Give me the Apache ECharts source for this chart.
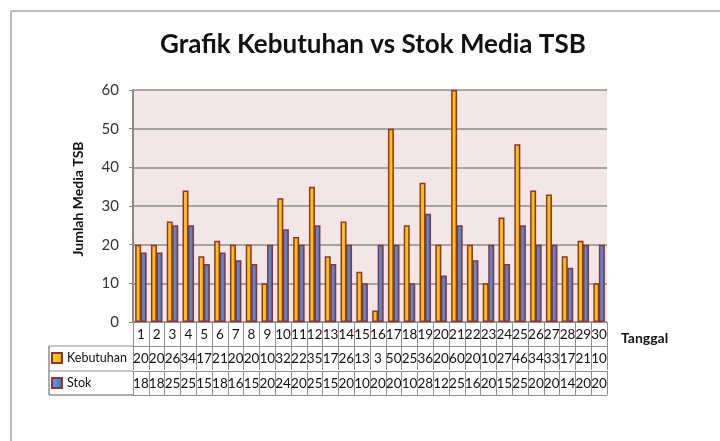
<!DOCTYPE html>
<html>
<head>
<meta charset="utf-8">
<script src="https://cdn.jsdelivr.net/npm/echarts@6/dist/echarts.min.js"></script>
<style>html,body{margin:0;padding:0;background:#fff}#c{width:720px;height:441px}</style>
</head>
<body>
<div id="c"></div>
<script>
var days = ['1','2','3','4','5','6','7','8','9','10','11','12','13','14','15','16','17','18','19','20','21','22','23','24','25','26','27','28','29','30'];
var kebutuhan = [20,20,26,34,17,21,20,20,10,32,22,35,17,26,13,3,50,25,36,20,60,20,10,27,46,34,33,17,21,10];
var stok = [18,18,25,25,15,18,16,15,20,24,20,25,15,20,10,20,20,10,28,12,25,16,20,15,25,20,20,14,20,20];
var yTicks = [0,10,20,30,40,50,60];

var FONT = 'Lato, "Open Sans", sans-serif';
var GRID_LINE = '#8c8c8c';
var TABLE_LINE = '#8f8f8f';
var BAR_BORDER = '#8b3535';

function tableAxis(data, offset, showLabel) {
  return {
    type: 'category', gridIndex: 0, position: 'bottom', offset: offset,
    data: data,
    axisLine: {show: true, lineStyle: {color: TABLE_LINE, width: 1}},
    axisTick: {show: showLabel, interval: 0, length: 24, lineStyle: {color: TABLE_LINE, width: 1}},
    axisLabel: {show: showLabel, interval: 0, margin: 6, fontFamily: FONT, fontSize: 13.5, color: '#111', hideOverlap: false},
    splitLine: {show: false}
  };
}

var chart = echarts.init(document.getElementById('c'), null, {renderer: 'canvas'});
var xDays = tableAxis(days, 0, true);
xDays.name = 'Tanggal';
xDays.nameLocation = 'end';
xDays.nameGap = 14;
xDays.nameTextStyle = {fontFamily: FONT, fontSize: 14, fontWeight: 'bold', color: '#111', verticalAlign: 'top', padding: [9, 0, 0, 0]};

chart.setOption({
  animation: false,
  backgroundColor: '#ffffff',
  title: {
    text: 'Grafik Kebutuhan vs Stok Media TSB',
    left: 155, top: 27,
    textStyle: {fontFamily: FONT, fontSize: 26, fontWeight: 'bold', color: '#111'}
  },
  legend: {
    orient: 'vertical', left: 51, top: 351, itemGap: 11, padding: 0,
    itemWidth: 10, itemHeight: 10, icon: 'rect',
    textStyle: {fontFamily: FONT, fontSize: 12.5, color: '#111', lineHeight: 14},
    data: ['Kebutuhan', 'Stok']
  },
  grid: {left: 133, right: 113, top: 90, bottom: 119, show: true, backgroundColor: '#f3e6e7', borderWidth: 0},
  xAxis: [
    xDays,
    tableAxis(kebutuhan.map(String), 24, true),
    tableAxis(stok.map(String), 49, true),
    tableAxis(days, 73, false)
  ],
  yAxis: {
    type: 'value', min: 0, max: 60, interval: 10,
    name: 'Jumlah Media TSB', nameLocation: 'middle', nameRotate: 90, nameGap: 48,
    nameTextStyle: {fontFamily: FONT, fontSize: 14, fontWeight: 'bold', color: '#111', padding: [0, 0, 0, 14]},
    axisLine: {show: true, lineStyle: {color: '#8a8a8a', width: 2}},
    axisTick: {show: true, length: 4, lineStyle: {color: '#8a8a8a'}},
    axisLabel: {fontFamily: FONT, fontSize: 15, color: '#333', margin: 14,
      formatter: function (v) { return yTicks.indexOf(v) >= 0 ? String(v) : ''; }},
    splitLine: {show: true, lineStyle: {color: GRID_LINE, width: 1.5}}
  },
  series: [
    {
      name: 'Kebutuhan', type: 'bar', xAxisIndex: 0, data: kebutuhan,
      barWidth: 6, barGap: '-8%',
      itemStyle: {
        color: new echarts.graphic.LinearGradient(0, 0, 1, 0, [
          {offset: 0, color: '#ffd11a'}, {offset: 0.6, color: '#ffc000'}, {offset: 1, color: '#d99a00'}]),
        borderColor: BAR_BORDER, borderWidth: 1.5
      }
    },
    {
      name: 'Stok', type: 'bar', xAxisIndex: 0, data: stok,
      barWidth: 6,
      itemStyle: {
        color: new echarts.graphic.LinearGradient(0, 0, 1, 0, [
          {offset: 0, color: '#6a9be0'}, {offset: 0.6, color: '#4f86d2'}, {offset: 1, color: '#3b68a8'}]),
        borderColor: BAR_BORDER, borderWidth: 1.5
      }
    }
  ],
  graphic: [
    {type: 'line', shape: {x1: 11, y1: 11, x2: 720, y2: 11}, style: {stroke: '#a6a6a6', lineWidth: 1.5}, silent: true},
    {type: 'line', shape: {x1: 11, y1: 11, x2: 11, y2: 441}, style: {stroke: '#a6a6a6', lineWidth: 1.5}, silent: true},
    {type: 'line', shape: {x1: 49, y1: 346, x2: 133, y2: 346}, style: {stroke: TABLE_LINE, lineWidth: 1}, silent: true},
    {type: 'line', shape: {x1: 49, y1: 371, x2: 133, y2: 371}, style: {stroke: TABLE_LINE, lineWidth: 1}, silent: true},
    {type: 'line', shape: {x1: 49, y1: 395, x2: 133, y2: 395}, style: {stroke: TABLE_LINE, lineWidth: 1.5}, silent: true},
    {type: 'line', shape: {x1: 49, y1: 346, x2: 49, y2: 395}, style: {stroke: TABLE_LINE, lineWidth: 1.5}, silent: true}
  ]
});
</script>
</body>
</html>
